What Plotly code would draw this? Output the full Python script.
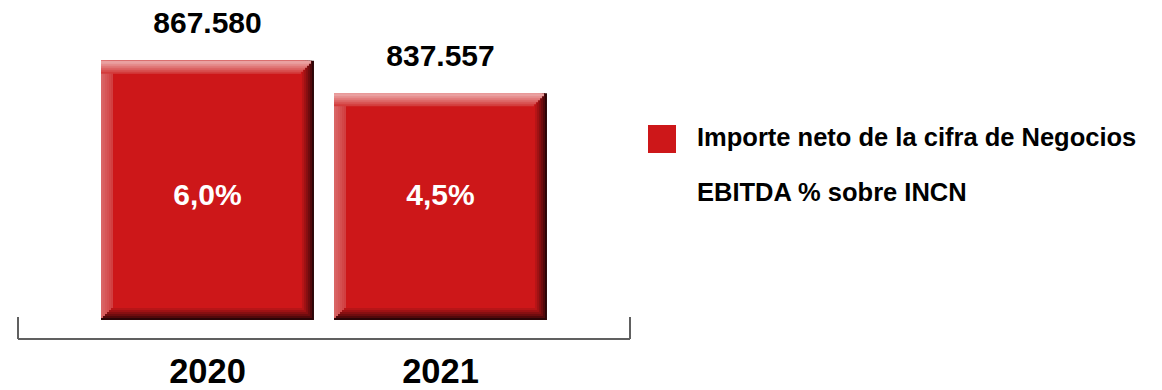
import plotly.graph_objects as go

# ---------------- data ----------------
years = ["2020", "2021"]
revenue = [867580, 837557]          # Importe neto de la cifra de Negocios
ebitda_pct = [6.0, 4.5]             # EBITDA % sobre INCN
series_names = ["Importe neto de la cifra de Negocios", "EBITDA % sobre INCN"]

# ---------------- style / layout ----------------
W, H = 1162, 390
ML, MR, MT, MB = 18, 532, 0, 51
PLOT_W = W - ML - MR
PLOT_H = H - MT - MB
Y_MIN, Y_MAX = 612000, 923300
BAR_BASE = 629500
X_MIN, X_MAX = -0.8133, 1.8133
BAR_W = 0.914
LABEL_LEVEL = 0.418

RED = "#CD1719"
DARK = "#2C0507"
FONT = "Liberation Sans, Arial, sans-serif"
AXIS_GREY = "#606060"

xpx = (X_MAX - X_MIN) / PLOT_W
ypx = (Y_MAX - Y_MIN) / PLOT_H


def hex2rgb(h):
    h = h.lstrip("#")
    return tuple(int(h[i:i + 2], 16) for i in (0, 2, 4))


def mix(c1, c2, t):
    a, b = hex2rgb(c1), hex2rgb(c2)
    return "#%02x%02x%02x" % tuple(round(a[i] + (b[i] - a[i]) * t) for i in range(3))


fig = go.Figure()


def layer(color, left=0, right=0, top=0, bottom=0, band_top=None, band_left=None):
    x_left = -BAR_W / 2 + left * xpx
    x_right = BAR_W / 2 - right * xpx
    if band_left is not None:
        x_right = x_left + band_left * xpx
    tops, bases = [], []
    for v in revenue:
        yt = v - top * ypx
        yb = BAR_BASE + bottom * ypx
        if band_top is not None:
            yb = yt - band_top * ypx
        tops.append(yt - yb)
        bases.append(yb)
    fig.add_trace(go.Bar(
        x=years, y=tops, base=bases, offset=x_left, width=x_right - x_left,
        marker=dict(color=color, line=dict(width=0)),
        showlegend=False, hoverinfo="skip",
    ))


# right / bottom shadow gradient
steps = 6
for i in range(steps + 1):
    t = (i / steps) ** 0.8
    layer(mix(DARK, RED, t), right=2 * i, bottom=2 * i)

# left highlight band
for j, th in enumerate([12, 10, 8, 6, 4, 2]):
    layer(mix("#D23F41", "#D96666", j / 5), band_left=th, bottom=th)

# top highlight band
for j, th in enumerate([13, 11, 9, 7, 5, 3]):
    layer(mix("#D33C3C", "#EAA0A0", j / 5), band_top=th, right=th)

# value labels above bars
fig.add_trace(go.Scatter(
    x=years, y=revenue, mode="markers+text",
    marker=dict(size=30, color="rgba(0,0,0,0)"),
    text=[f"{v:,}".replace(",", ".") for v in revenue],
    textposition="top center",
    textfont=dict(family=FONT, size=30, color="black", weight="bold"),
    cliponaxis=False, showlegend=False, hoverinfo="skip",
))

# EBITDA % labels
fig.add_trace(go.Scatter(
    x=years, y=[LABEL_LEVEL] * len(years), yaxis="y2", mode="text",
    text=[f"{p:.1f}".replace(".", ",") + "%" for p in ebitda_pct],
    textposition="middle center",
    textfont=dict(family=FONT, size=30, color="white", weight="bold"),
    cliponaxis=False, showlegend=False, hoverinfo="skip",
))


def px_x(p):
    return (p - ML) / PLOT_W


def px_y(p):
    return (MT + PLOT_H - p) / PLOT_H


shapes = []
# bracket axis
h = px_y(317)
for x0, y0, x1, y1 in [(0, h, 0, 0), (0, 0, 1, 0), (1, 0, 1, h)]:
    shapes.append(dict(type="line", xref="paper", yref="paper", x0=x0, y0=y0, x1=x1, y1=y1,
                       line=dict(color=AXIS_GREY, width=2)))
# legend square
shapes.append(dict(type="rect", xref="paper", yref="paper",
                   x0=px_x(648), x1=px_x(676), y0=px_y(153), y1=px_y(125),
                   fillcolor=RED, line=dict(width=0)))

annotations = [
    dict(xref="paper", yref="paper", x=px_x(695), y=px_y(137), text=series_names[0],
         xanchor="left", yanchor="middle", showarrow=False,
         font=dict(family=FONT, size=25.5, color="black", weight="bold")),
    dict(xref="paper", yref="paper", x=px_x(695), y=px_y(191.5), text=series_names[1],
         xanchor="left", yanchor="middle", showarrow=False,
         font=dict(family=FONT, size=25.5, color="black", weight="bold")),
]

fig.update_layout(
    width=W, height=H,
    margin=dict(l=ML, r=MR, t=MT, b=MB, autoexpand=False),
    paper_bgcolor="white", plot_bgcolor="white",
    barmode="overlay",
    shapes=shapes, annotations=annotations,
    xaxis=dict(type="category", range=[X_MIN, X_MAX], showgrid=False, zeroline=False,
               showline=False, ticks="outside", ticklen=2, tickcolor="rgba(0,0,0,0)",
               automargin=False,
               tickfont=dict(family=FONT, size=34.5, color="black", weight="bold")),
    yaxis=dict(range=[Y_MIN, Y_MAX], visible=False, showgrid=False, zeroline=False,
               automargin=False),
    yaxis2=dict(range=[0, 1], overlaying="y", visible=False, showgrid=False, zeroline=False),
    showlegend=False,
)

fig.write_html("out.html")
